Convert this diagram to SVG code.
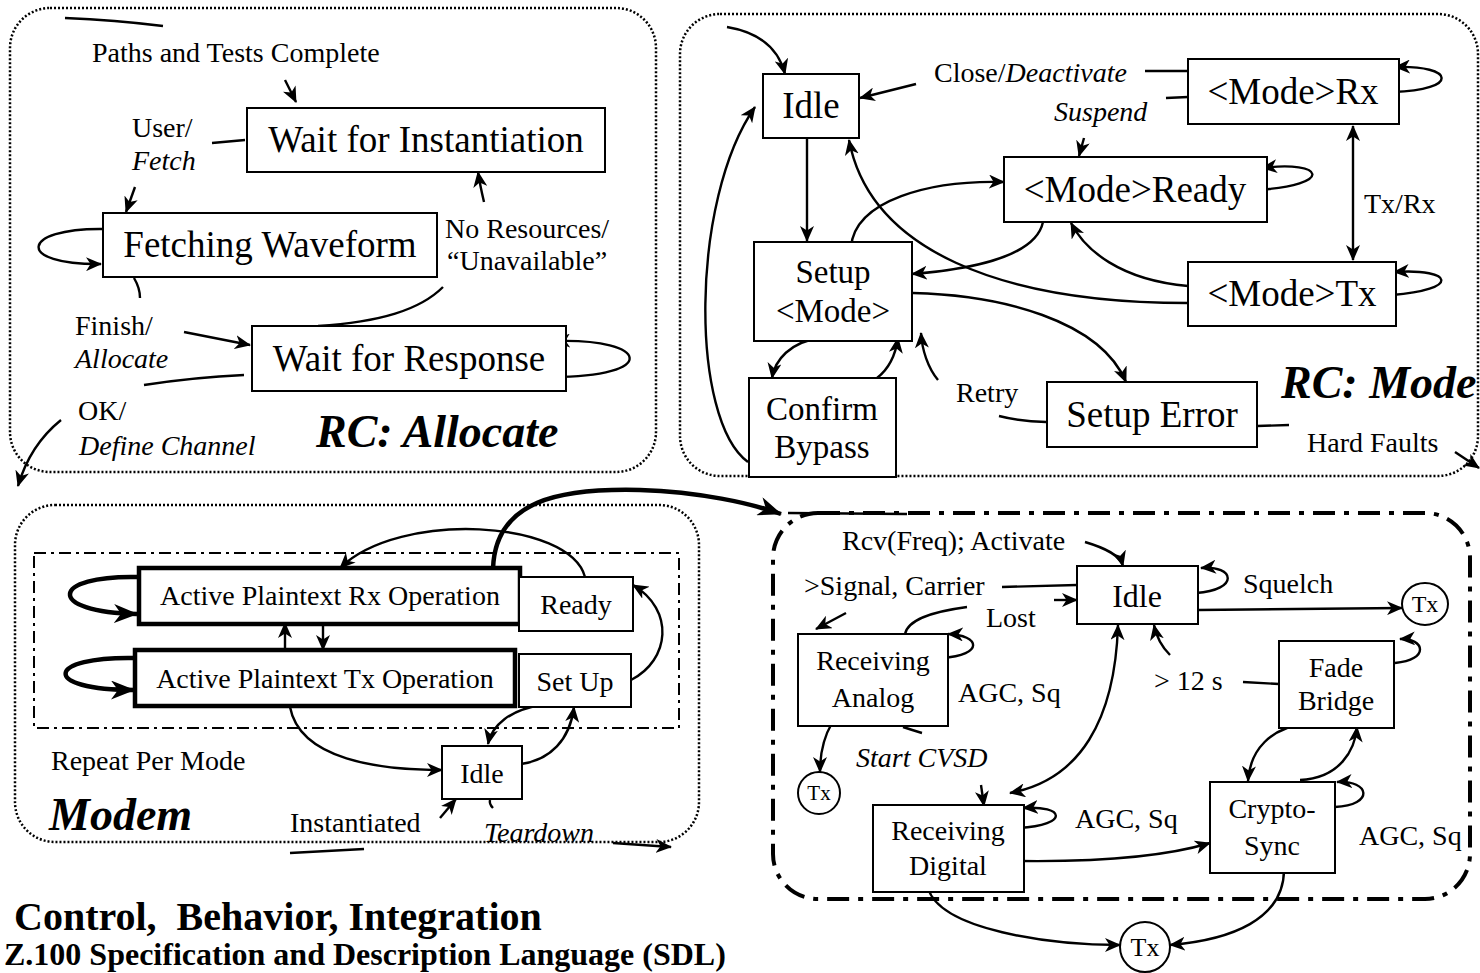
<svg xmlns="http://www.w3.org/2000/svg" width="1480" height="973" viewBox="0 0 1480 973">
<style>
.bg{fill:#fff}
.panel{fill:none;stroke:#000;stroke-width:2.5;stroke-dasharray:2 2}
.box{fill:#fff;stroke:#000;stroke-width:2}
.tb{stroke-width:4.5}
.c{fill:none;stroke:#000;stroke-width:2.4}
.ct{stroke-width:4.5}
text{font-family:"Liberation Serif","Times New Roman",serif;font-size:28px;fill:#000}
.m{text-anchor:middle}
.big{font-size:37px}
.mid{font-size:33px}
.i{font-style:italic}
.title{font-weight:bold;font-style:italic;font-size:46px}
.foot1{font-weight:bold;font-size:40px}
.foot2{font-weight:bold;font-size:32px}
</style>
<defs>
<marker id="a" viewBox="0 0 16 14" refX="15" refY="7" markerWidth="16" markerHeight="14" markerUnits="userSpaceOnUse" orient="auto-start-reverse"><path d="M0,0 L16,7 L0,14 L4.5,7 z"/></marker>
<marker id="A" viewBox="0 0 24 19" refX="23" refY="9.5" markerWidth="24" markerHeight="19" markerUnits="userSpaceOnUse" orient="auto-start-reverse"><path d="M0,0 L24,9.5 L0,19 L7,9.5 z"/></marker>
</defs>
<rect class="bg" x="0" y="0" width="1480" height="973"/>

<!-- panels -->
<g id="panel-allocate"><rect class="panel" x="10" y="8" width="646" height="464" rx="40"/></g>
<g id="panel-mode"><rect class="panel" x="680" y="14" width="798" height="462" rx="40"/></g>
<g id="panel-modem"><rect class="panel" x="15" y="505" width="684" height="337" rx="40"/>
<rect x="34" y="553" width="645" height="175" fill="none" stroke="#000" stroke-width="2" stroke-dasharray="12 5 3 5"/></g>
<g id="panel-rx"><rect x="773" y="513" width="697" height="386" rx="45" fill="none" stroke="#000" stroke-width="4" stroke-dasharray="22 9 5 9"/></g>

<!-- connectors -->
<g id="connectors">
<!-- panel 1 -->
<path class="c" d="M65,18 Q115,20 163,26"/>
<path class="c" d="M285,80 L296,102" marker-end="url(#a)"/>
<path class="c" d="M212,143 L245,140"/>
<path class="c" d="M135,187 L126,212" marker-end="url(#a)"/>
<path class="c" d="M103,229 C20,228 15,265 101,264" marker-end="url(#a)"/>
<path class="c" d="M484,202 Q480,185 478,172" marker-end="url(#a)"/>
<path class="c" d="M318,326 C380,322 420,310 443,287"/>
<path class="c" d="M134,278 Q140,288 140,298"/>
<path class="c" d="M184,332 Q215,338 250,345" marker-end="url(#a)"/>
<path class="c" d="M552,377 C660,377 650,338 555,341" marker-end="url(#a)"/>
<path class="c" d="M244,375 C200,377 170,381 144,385"/>
<path class="c" d="M61,420 Q30,445 18,486" marker-end="url(#a)"/>
<!-- panel 2 -->
<path class="c" d="M727,27 Q775,35 785,74" marker-end="url(#a)"/>
<path class="c" d="M916,84 L860,98" marker-end="url(#a)"/>
<path class="c" d="M1145,71 L1188,71"/>
<path class="c" d="M1166,98 L1188,97"/>
<path class="c" d="M1084,138 L1079,156" marker-end="url(#a)"/>
<path class="c" d="M1393,92 C1460,90 1455,65 1395,67" marker-end="url(#a)"/>
<path class="c" d="M1257,190 C1335,185 1325,160 1262,168" marker-end="url(#a)"/>
<path class="c" d="M1353,126 L1353,260" marker-start="url(#a)" marker-end="url(#a)"/>
<path class="c" d="M1392,295 C1460,290 1455,268 1394,272" marker-end="url(#a)"/>
<path class="c" d="M807,139 L807,241" marker-end="url(#a)"/>
<path class="c" d="M748,462 C690,420 690,200 755,107" marker-end="url(#a)"/>
<path class="c" d="M851,247 C855,200 930,180 1004,182" marker-end="url(#a)"/>
<path class="c" d="M1043,222 C1035,260 960,270 912,274" marker-end="url(#a)"/>
<path class="c" d="M1188,286 C1120,280 1085,250 1071,223" marker-end="url(#a)"/>
<path class="c" d="M1188,303 C1000,303 870,250 849,140" marker-end="url(#a)"/>
<path class="c" d="M913,293 C1000,295 1100,320 1126,382" marker-end="url(#a)"/>
<path class="c" d="M820,338 C790,342 775,360 772,378" marker-end="url(#a)"/>
<path class="c" d="M877,378 C890,368 896,352 898,338" marker-end="url(#a)"/>
<path class="c" d="M938,380 C928,368 922,350 921,333" marker-end="url(#a)"/>
<path class="c" d="M999,416 C1015,420 1030,422 1046,422"/>
<path class="c" d="M1257,426 L1289,425"/>
<path class="c" d="M1455,452 L1479,468" marker-end="url(#a)"/>
<!-- panel 3 -->
<path class="c ct" d="M138,577 C50,575 45,612 137,614" marker-end="url(#A)"/>
<path class="c ct" d="M136,658 C45,656 40,690 134,690" marker-end="url(#A)"/>
<path class="c" d="M285,649 L285,623" marker-end="url(#a)"/>
<path class="c" d="M323,624 L323,650" marker-end="url(#a)"/>
<path class="c" d="M585,577 C570,520 400,510 340,568" marker-end="url(#a)"/>
<path class="c ct" d="M493,569 C495,500 560,488 640,490 C700,492 750,503 781,514" marker-end="url(#A)"/>
<path class="c" d="M631,680 C670,660 675,610 633,585" marker-end="url(#a)"/>
<path class="c" d="M290,707 C300,760 380,770 442,770" marker-end="url(#a)"/>
<path class="c" d="M541,705 C510,710 492,725 488,744" marker-end="url(#a)"/>
<path class="c" d="M521,764 C550,760 570,740 574,707" marker-end="url(#a)"/>
<path class="c" d="M440,818 L456,799" marker-end="url(#a)"/>
<path class="c" d="M490,800 Q489,804 493,808"/>
<path class="c" d="M290,853 Q330,851 364,849"/>
<path class="c" d="M613,843 L671,847" marker-end="url(#a)"/>
<!-- panel 4 -->
<path class="c" d="M788,513 L907,514"/>
<path class="c" d="M1085,542 C1105,548 1120,555 1123,566" marker-end="url(#a)"/>
<path class="c" d="M1196,593 C1240,590 1235,565 1201,568" marker-end="url(#a)"/>
<path class="c" d="M1198,610 L1402,608" marker-end="url(#a)"/>
<path class="c" d="M1002,587 L1077,585"/>
<path class="c" d="M1054,600 L1077,600" marker-end="url(#a)"/>
<path class="c" d="M846,613 L816,629" marker-end="url(#a)"/>
<path class="c" d="M905,634 C908,620 930,612 967,607"/>
<path class="c" d="M942,658 C985,655 980,635 948,634" marker-end="url(#a)"/>
<path class="c" d="M903,727 Q912,730 922,733"/>
<path class="c" d="M832,723 C825,735 820,750 820,772" marker-end="url(#a)"/>
<path class="c" d="M981,785 L984,806" marker-end="url(#a)"/>
<path class="c" d="M1019,828 C1070,825 1065,805 1023,808" marker-end="url(#a)"/>
<path class="c" d="M1118,625 C1115,720 1080,780 1010,793" marker-start="url(#a)" marker-end="url(#a)"/>
<path class="c" d="M1170,655 C1160,645 1156,635 1154,625" marker-end="url(#a)"/>
<path class="c" d="M1243,682 L1279,684"/>
<path class="c" d="M1395,663 C1430,660 1425,638 1400,639" marker-end="url(#a)"/>
<path class="c" d="M1307,723 C1270,728 1250,750 1248,781" marker-end="url(#a)"/>
<path class="c" d="M1300,780 C1340,778 1355,750 1357,727" marker-end="url(#a)"/>
<path class="c" d="M1335,807 C1375,805 1370,780 1337,782" marker-end="url(#a)"/>
<path class="c" d="M1021,861 C1110,862 1170,855 1210,843" marker-end="url(#a)"/>
<path class="c" d="M928,888 C940,930 1050,945 1120,945" marker-end="url(#a)"/>
<path class="c" d="M1284,868 C1285,920 1230,940 1170,945" marker-end="url(#a)"/>
</g>

<!-- panel 1 nodes -->
<g id="wait-inst"><rect class="box" x="247" y="108" width="358" height="64"/><text class="big m" x="426" y="152">Wait for Instantiation</text></g>
<g id="fetching"><rect class="box" x="103" y="213" width="334" height="64"/><text class="big m" x="270" y="257">Fetching Waveform</text></g>
<g id="wait-resp"><rect class="box" x="252" y="326" width="314" height="65"/><text class="big m" x="409" y="371">Wait for Response</text></g>
<g id="labels-allocate">
<text x="92" y="62">Paths and Tests Complete</text>
<text x="132" y="137">User/</text>
<text class="i" x="132" y="170">Fetch</text>
<text x="445" y="238">No Resources/</text>
<text x="447" y="270">“Unavailable”</text>
<text x="75" y="335">Finish/</text>
<text class="i" x="75" y="368">Allocate</text>
<text x="78" y="420">OK/</text>
<text class="i" x="79" y="455">Define Channel</text>
<text class="title" x="316" y="447">RC: Allocate</text>
</g>

<!-- panel 2 nodes -->
<g id="idle-mode"><rect class="box" x="763" y="74" width="96" height="64"/><text class="big m" x="811" y="118">Idle</text></g>
<g id="mode-rx"><rect class="box" x="1188" y="59" width="211" height="65"/><text class="big m" x="1293" y="104">&lt;Mode&gt;Rx</text></g>
<g id="mode-ready"><rect class="box" x="1004" y="157" width="263" height="65"/><text class="big m" x="1135" y="202">&lt;Mode&gt;Ready</text></g>
<g id="mode-tx"><rect class="box" x="1188" y="262" width="208" height="64"/><text class="big m" x="1292" y="306">&lt;Mode&gt;Tx</text></g>
<g id="setup-mode"><rect class="box" x="754" y="242" width="158" height="99"/><text class="mid m" x="833" y="283">Setup</text><text class="mid m" x="833" y="322">&lt;Mode&gt;</text></g>
<g id="confirm-bypass"><rect class="box" x="749" y="378" width="147" height="99"/><text class="mid m" x="822" y="420">Confirm</text><text class="mid m" x="822" y="458">Bypass</text></g>
<g id="setup-error"><rect class="box" x="1047" y="382" width="210" height="65"/><text class="big m" x="1152" y="427">Setup Error</text></g>
<g id="labels-mode">
<text x="934" y="82">Close/<tspan class="i">Deactivate</tspan></text>
<text class="i" x="1054" y="121">Suspend</text>
<text x="1364" y="213">Tx/Rx</text>
<text x="956" y="402">Retry</text>
<text x="1307" y="452">Hard Faults</text>
<text class="title" x="1281" y="398">RC: Mode</text>
</g>

<!-- panel 3 nodes -->
<g id="rx-op"><rect class="box tb" x="139" y="568" width="381" height="56"/><text class="m" x="330" y="605">Active Plaintext Rx Operation</text></g>
<g id="ready"><rect class="box" x="519" y="577" width="114" height="54"/><text class="m" x="576" y="614">Ready</text></g>
<g id="tx-op"><rect class="box tb" x="135" y="650" width="380" height="56"/><text class="m" x="325" y="688">Active Plaintext Tx Operation</text></g>
<g id="set-up"><rect class="box" x="519" y="654" width="112" height="53"/><text class="m" x="575" y="691">Set Up</text></g>
<g id="idle-modem"><rect class="box" x="442" y="746" width="80" height="53"/><text class="m" x="482" y="783">Idle</text></g>
<g id="labels-modem">
<text x="51" y="770">Repeat Per Mode</text>
<text x="290" y="832">Instantiated</text>
<text class="i" x="484" y="842">Teardown</text>
<text class="title" x="49" y="830">Modem</text>
</g>

<!-- panel 4 nodes -->
<g id="idle-rx"><rect class="box" x="1077" y="566" width="121" height="58"/><text class="m" x="1137" y="607" style="font-size:32px">Idle</text></g>
<g id="recv-analog"><rect class="box" x="798" y="634" width="150" height="92"/><text class="m" x="873" y="670">Receiving</text><text class="m" x="873" y="707">Analog</text></g>
<g id="recv-digital"><rect class="box" x="873" y="805" width="151" height="87"/><text class="m" x="948" y="840">Receiving</text><text class="m" x="948" y="875">Digital</text></g>
<g id="fade-bridge"><rect class="box" x="1279" y="641" width="115" height="87"/><text class="m" x="1336" y="677">Fade</text><text class="m" x="1336" y="710">Bridge</text></g>
<g id="crypto-sync"><rect class="box" x="1210" y="782" width="125" height="91"/><text class="m" x="1272" y="818">Crypto-</text><text class="m" x="1272" y="855">Sync</text></g>
<g id="tx-1"><ellipse class="box" cx="1425" cy="604" rx="23" ry="21"/><text class="m" x="1425" y="612" style="font-size:24px">Tx</text></g>
<g id="tx-2"><ellipse class="box" cx="819" cy="793" rx="21" ry="21"/><text class="m" x="819" y="800" style="font-size:21px">Tx</text></g>
<g id="tx-3"><ellipse class="box" cx="1145" cy="947" rx="25" ry="25"/><text class="m" x="1145" y="956" style="font-size:26px">Tx</text></g>
<g id="labels-rx">
<text x="842" y="550">Rcv(Freq); Activate</text>
<text x="804" y="595">&gt;Signal, Carrier</text>
<text x="986" y="627">Lost</text>
<text x="1243" y="593">Squelch</text>
<text x="958" y="702">AGC, Sq</text>
<text class="i" x="856" y="767">Start CVSD</text>
<text x="1154" y="690">&gt; 12 s</text>
<text x="1075" y="828">AGC, Sq</text>
<text x="1359" y="845">AGC, Sq</text>
</g>

<!-- footer -->
<g id="footer">
<text class="foot1" x="14" y="930" xml:space="preserve">Control,  Behavior, Integration</text>
<text class="foot2" x="4" y="965">Z.100 Specification and Description Language (SDL)</text>
</g>
</svg>
